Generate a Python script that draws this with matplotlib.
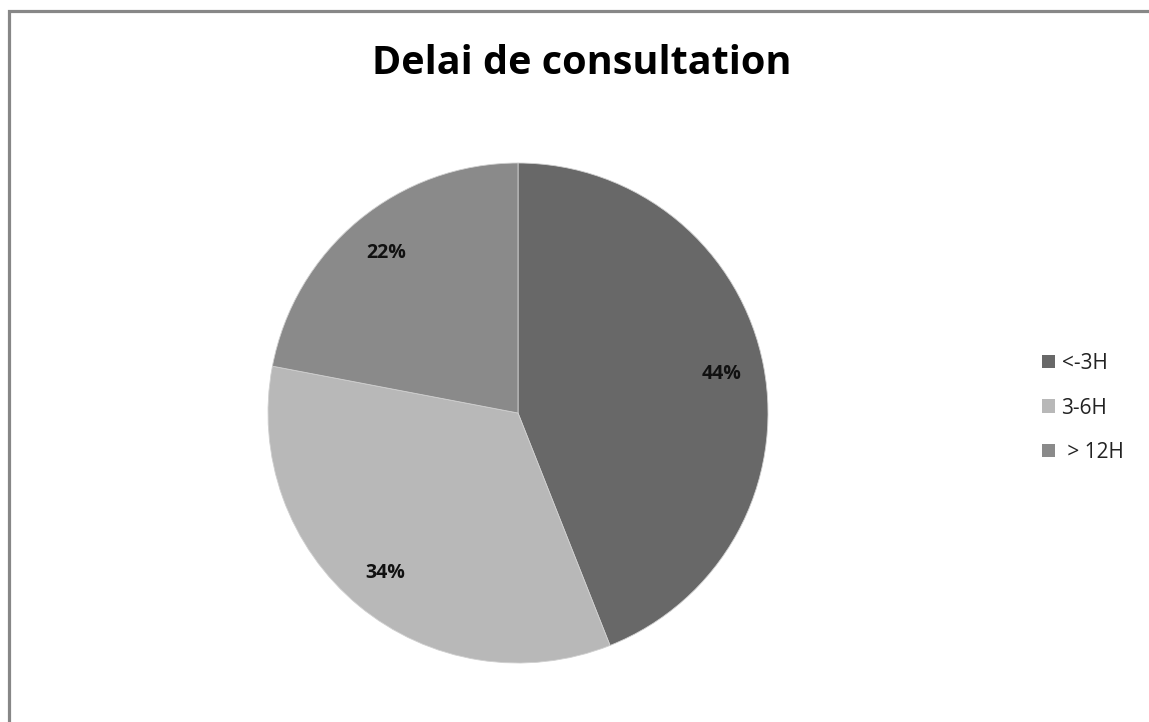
import matplotlib
matplotlib.use("Agg")
import matplotlib.pyplot as plt
from matplotlib.patches import Rectangle

# Data
categories = ["<-3H", "3-6H", " > 12H"]
shares = [44, 34, 22]
colors = ["#686868", "#b8b8b8", "#8a8a8a"]
title = "Delai de consultation"

W, H, DPI = 1149, 722, 100
fig = plt.figure(figsize=(W / DPI, H / DPI), dpi=DPI)
fig.patch.set_facecolor("white")

# Chart frame (left and top edges visible)
fig.patches.append(Rectangle((8.5 / W, -0.1), 1.2, 1.1 - 10.5 / H,
                             transform=fig.transFigure, fill=False,
                             edgecolor="#878787", linewidth=2.3, zorder=0))

# Pie axes: centre (518, 413) px, radius 250 px
cx, cy, r = 518, 413, 250
ax = fig.add_axes([(cx - r) / W, (H - cy - r) / H, 2 * r / W, 2 * r / H])
wedges, texts, autotexts = ax.pie(
    shares, colors=colors, startangle=90, counterclock=False,
    autopct=lambda p: f"{p:.0f}%", pctdistance=0.83, radius=1,
    wedgeprops=dict(edgecolor="#d0d0d0", linewidth=0.6),
    textprops=dict(fontsize=14, fontweight="bold", color="#111111", family="Open Sans"))
ax.set_xlim(-1, 1)
ax.set_ylim(-1, 1)
ax.set_aspect("equal")
ax.axis("off")

fig.text(582 / W, 1 - 64 / H, title, ha="center", va="center",
         fontsize=28.5, fontweight="bold", family="Open Sans", color="#000000")

leg = fig.legend(wedges, categories, loc="center left",
                 bbox_to_anchor=(1023 / W, 1 - 408 / H),
                 frameon=False, handlelength=0.62, handleheight=0.62,
                 handletextpad=0.33, labelspacing=1.13,
                 prop=dict(family="Open Sans", size=15))
for t in leg.get_texts():
    t.set_color("#222222")
for h in leg.legend_handles:
    h.set_edgecolor("none")

fig.savefig("out.png", dpi=DPI, facecolor="white")
